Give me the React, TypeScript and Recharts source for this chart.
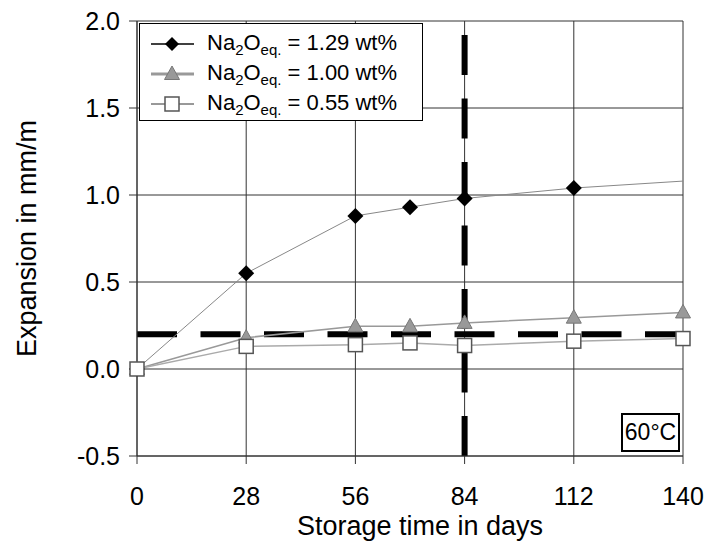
import { LineChart, Line, XAxis, YAxis, CartesianGrid, ReferenceLine, Label } from 'recharts'

// storage days and measured expansion (mm/m) per alkali content
const days = [0, 28, 56, 70, 84, 112, 140]
const highAlkali = [0, 0.55, 0.88, 0.93, 0.98, 1.04, 1.08]
const highMarked = [true, true, true, true, true, true, false]
const midAlkali = [0, 0.18, 0.245, 0.245, 0.265, 0.295, 0.325]
const lowAlkali = [0, 0.13, 0.14, 0.15, 0.135, 0.16, 0.175]

const xTicks = [0, 28, 56, 84, 112, 140]
const yTicks = [-0.5, 0, 0.5, 1.0, 1.5, 2.0]
const limitDay = 84
const limitExpansion = 0.2
const legendValues = ['1.29', '1.00', '0.55']
const tempLabel = '60°C'

const FONT = '"Liberation Sans", Arial, sans-serif'

const data = days.map((d, i) => ({
  day: d,
  high: highAlkali[i],
  marked: highMarked[i],
  mid: midAlkali[i],
  low: lowAlkali[i],
}))

function Diamond(props: any) {
  const { cx, cy, payload, index } = props
  if (payload && payload.marked === false) return <g key={'d' + index} />
  const r = 8
  return (
    <polygon
      key={'d' + index}
      points={`${cx},${cy - r} ${cx + r},${cy} ${cx},${cy + r} ${cx - r},${cy}`}
      fill="#000"
    />
  )
}

function Triangle(props: any) {
  const { cx, cy, index } = props
  return (
    <polygon
      key={'t' + index}
      points={`${cx},${cy - 8} ${cx + 7.5},${cy + 5.5} ${cx - 7.5},${cy + 5.5}`}
      fill="#999"
      stroke="#777"
      strokeWidth={1}
    />
  )
}

function Square(props: any) {
  const { cx, cy, index } = props
  return (
    <rect key={'s' + index} x={cx - 7} y={cy - 7} width={14} height={14} fill="#fff" stroke="#555" strokeWidth={1.5} />
  )
}

function LegendRow({ value, kind }: { value: string; kind: number }) {
  return (
    <div style={{ height: 30, display: 'flex', alignItems: 'center' }}>
      <svg width={56} height={20} style={{ marginLeft: 11 }}>
        {kind === 0 && (
          <>
            <line x1={0} y1={10} x2={43} y2={10} stroke="#000" strokeWidth={1.5} />
            <polygon points="21,3 28,10 21,17 14,10" fill="#000" />
          </>
        )}
        {kind === 1 && (
          <>
            <line x1={0} y1={10} x2={43} y2={10} stroke="#999" strokeWidth={3} />
            <polygon points="21,2 28.5,15.5 13.5,15.5" fill="#999" stroke="#777" />
          </>
        )}
        {kind === 2 && (
          <>
            <line x1={0} y1={10} x2={43} y2={10} stroke="#333" strokeWidth={1} />
            <rect x={14} y={3} width={14} height={14} fill="#fff" stroke="#555" strokeWidth={1.5} />
          </>
        )}
      </svg>
      <span style={{ fontSize: 22, fontFamily: FONT, color: '#000', whiteSpace: 'nowrap' }}>
        Na<sub style={{ fontSize: 15 }}>2</sub>O<sub style={{ fontSize: 15 }}>eq.</sub> = {value} wt%
      </span>
    </div>
  )
}

export default function App() {
  return (
    <div style={{ position: 'absolute', left: 0, top: 0, width: 710, height: 549, background: '#fff', fontFamily: FONT }}>
      <LineChart width={710} height={549} data={data} margin={{ top: 21, right: 27, bottom: 13, left: 17 }}>
        <CartesianGrid stroke="#333" strokeWidth={1} />
        <XAxis
          dataKey="day"
          type="number"
          domain={[0, 140]}
          ticks={xTicks}
          interval={0}
          height={80}
          tickSize={8}
          tickMargin={23}
          axisLine={{ stroke: '#333' }}
          tickLine={{ stroke: '#333' }}
          tick={{ fill: '#000', fontSize: 25, fontFamily: FONT }}
        >
          <Label
            content={({ viewBox }: any) => (
              <text x={viewBox.x + viewBox.width / 2 + 10} y={535} textAnchor="middle" fontSize={27} fontFamily={FONT} fill="#000">
                Storage time in days
              </text>
            )}
          />
        </XAxis>
        <YAxis
          type="number"
          domain={[-0.5, 2]}
          ticks={yTicks}
          interval={0}
          width={120}
          tickSize={8}
          tickMargin={9}
          tickFormatter={(v: number) => v.toFixed(1)}
          axisLine={{ stroke: '#333' }}
          tickLine={{ stroke: '#333' }}
          tick={{ fill: '#000', fontSize: 25, fontFamily: FONT }}
        >
          <Label
            content={({ viewBox }: any) => {
              const cy = viewBox.y + viewBox.height / 2
              return (
                <text x={36} y={cy} transform={`rotate(-90 36 ${cy})`} textAnchor="middle" fontSize={27} fontFamily={FONT} fill="#000">
                  Expansion in mm/m
                </text>
              )
            }}
          />
        </YAxis>
        <ReferenceLine x={limitDay} stroke="#000" strokeWidth={6} strokeDasharray="40 23.5" />
        <ReferenceLine y={limitExpansion} stroke="#000" strokeWidth={6} strokeDasharray="40 23.5" />
        <Line dataKey="high" stroke="#888" strokeWidth={1} dot={Diamond} activeDot={false} isAnimationActive={false} />
        <Line dataKey="mid" stroke="#999" strokeWidth={1.5} dot={Triangle} activeDot={false} isAnimationActive={false} />
        <Line dataKey="low" stroke="#aaa" strokeWidth={1.5} dot={Square} activeDot={false} isAnimationActive={false} />
      </LineChart>

      <div
        style={{
          position: 'absolute',
          left: 139,
          top: 23,
          width: 284,
          height: 98,
          border: '1px solid #000',
          background: '#fff',
          paddingTop: 5,
          boxSizing: 'border-box',
        }}
      >
        {legendValues.map((v, i) => (
          <LegendRow key={v} value={v} kind={i} />
        ))}
      </div>

      <div
        style={{
          position: 'absolute',
          left: 621,
          top: 413,
          width: 59,
          height: 39,
          border: '2px solid #000',
          background: '#fff',
          boxSizing: 'border-box',
          display: 'flex',
          alignItems: 'center',
          justifyContent: 'center',
          fontSize: 23,
          fontFamily: FONT,
        }}
      >
        {tempLabel}
      </div>
    </div>
  )
}
